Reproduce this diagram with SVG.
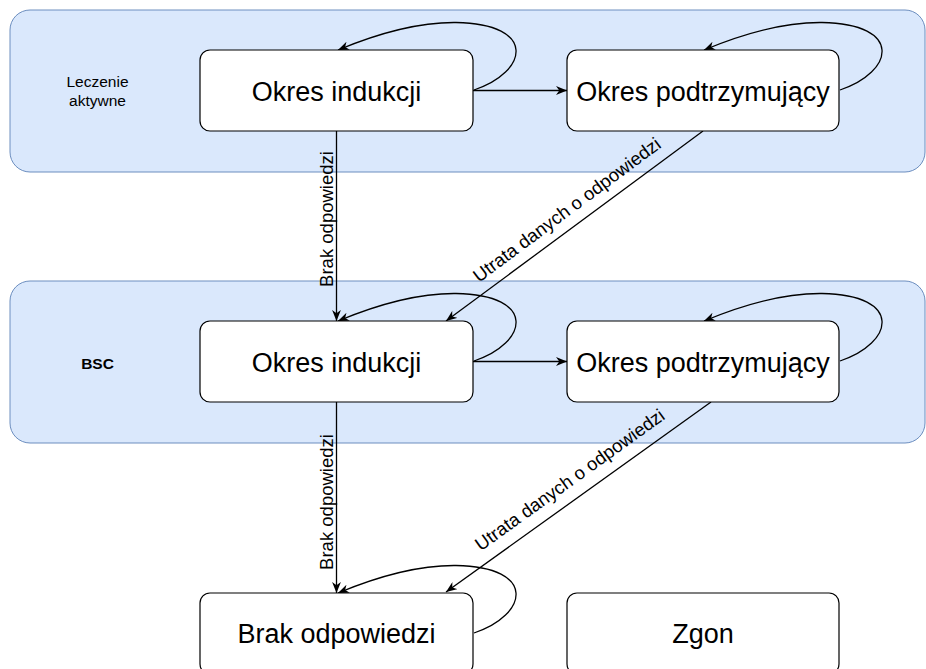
<svg xmlns="http://www.w3.org/2000/svg" width="926" height="669" viewBox="0 0 926 669">
<style>
.grp{fill:#dae8fc;stroke:#6c8ebf;stroke-width:1}
.node{fill:#ffffff;stroke:#000000;stroke-width:1.2}
.lbl{font-family:"Liberation Sans",Arial,sans-serif;fill:#000000}
.ntxt{font-size:27px;text-anchor:middle}
.etxt{font-size:18.5px;text-anchor:middle}
.edge{fill:none;stroke:#000000;stroke-width:1.3}
</style>
<defs>
<marker id="arr" viewBox="0 0 10 8" refX="10" refY="4" markerWidth="11" markerHeight="8.8" markerUnits="userSpaceOnUse" orient="auto">
<path d="M0,0 L10,4 L0,8 L3,4 Z" fill="#000000"/>
</marker>
</defs>
<rect width="926" height="669" fill="#ffffff"/>
<g id="group-leczenie">
<rect class="grp" x="10" y="10" width="915" height="162" rx="20"/>
<text class="lbl" x="97.5" y="87" font-size="15.5" text-anchor="middle">Leczenie</text>
<text class="lbl" x="97.5" y="106" font-size="15.5" text-anchor="middle">aktywne</text>
</g>
<g id="group-bsc">
<rect class="grp" x="10" y="281" width="915" height="162" rx="20"/>
<text class="lbl" x="97.5" y="369" font-size="15.5" font-weight="bold" text-anchor="middle">BSC</text>
</g>
<g id="connectors">
<path class="edge" d="M473,90.5 L567,90.5" marker-end="url(#arr)"/>
<path class="edge" d="M473,361.5 L567,361.5" marker-end="url(#arr)"/>
<path class="edge" d="M336.5,131 L336.5,321" marker-end="url(#arr)"/>
<path class="edge" d="M336.5,402 L336.5,593" marker-end="url(#arr)"/>
<path class="edge" d="M703,131 L446,321" marker-end="url(#arr)"/>
<path class="edge" d="M711,402 L446,592" marker-end="url(#arr)"/>
<path class="edge" d="M474,90 C528,72 538,24 456,22.5 C414,22 374,35 338,50" marker-end="url(#arr)"/>
<path class="edge" d="M840,90 C894,72 904,24 822,22.5 C780,22 740,35 704,50" marker-end="url(#arr)"/>
<path class="edge" d="M474,361 C528,343 538,295 456,293.5 C414,293 374,306 338,321" marker-end="url(#arr)"/>
<path class="edge" d="M840,361 C894,343 904,295 822,293.5 C780,293 740,306 704,321" marker-end="url(#arr)"/>
<path class="edge" d="M474,633 C528,615 538,567 456,565.5 C414,565 374,578 338,593" marker-end="url(#arr)"/>
<text class="lbl etxt" transform="translate(333,219) rotate(-90)">Brak odpowiedzi</text>
<text class="lbl etxt" transform="translate(333,502) rotate(-90)">Brak odpowiedzi</text>
<text class="lbl etxt" transform="translate(567,210) rotate(-36.6)" dy="6">Utrata danych o odpowiedzi</text>
<text class="lbl etxt" transform="translate(570,480) rotate(-35.7)" dy="6">Utrata danych o odpowiedzi</text>
</g>
<g id="node-indukcji-1">
<rect class="node" x="200" y="50" width="273" height="81" rx="10"/>
<text class="lbl ntxt" x="336.5" y="101">Okres indukcji</text>
</g>
<g id="node-podtrzym-1">
<rect class="node" x="567" y="50" width="272" height="81" rx="10"/>
<text class="lbl ntxt" x="703" y="101">Okres podtrzymujący</text>
</g>
<g id="node-indukcji-2">
<rect class="node" x="200" y="321" width="273" height="81" rx="10"/>
<text class="lbl ntxt" x="336.5" y="372">Okres indukcji</text>
</g>
<g id="node-podtrzym-2">
<rect class="node" x="567" y="321" width="272" height="81" rx="10"/>
<text class="lbl ntxt" x="703" y="372">Okres podtrzymujący</text>
</g>
<g id="node-brak">
<rect class="node" x="200" y="593" width="273" height="81" rx="10"/>
<text class="lbl ntxt" x="336.5" y="643">Brak odpowiedzi</text>
</g>
<g id="node-zgon">
<rect class="node" x="567" y="593" width="272" height="81" rx="10"/>
<text class="lbl ntxt" x="703" y="643">Zgon</text>
</g>
</svg>
